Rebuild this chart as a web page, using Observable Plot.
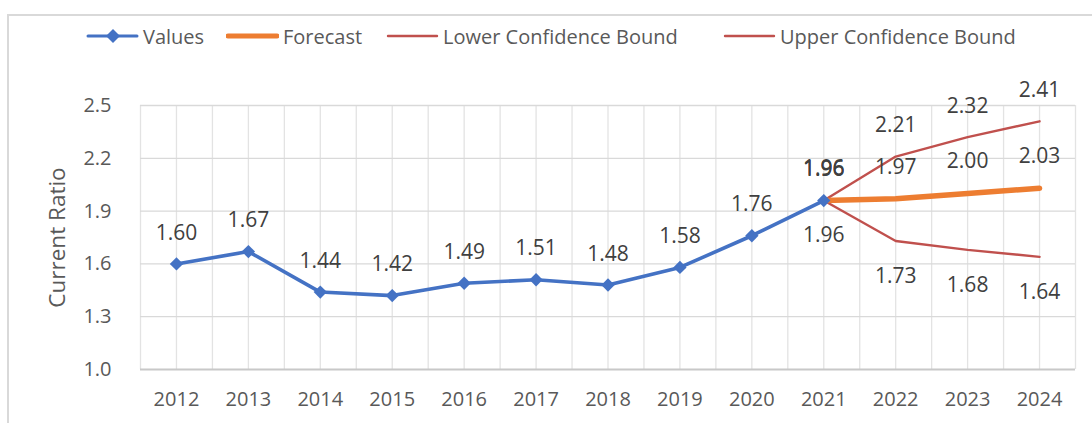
<!DOCTYPE html>
<html><head><meta charset="utf-8">
<script src="https://cdn.jsdelivr.net/npm/d3@7"></script>
<script src="https://cdn.jsdelivr.net/npm/@observablehq/plot@0.6"></script>
<style>
body{margin:0;background:#fff;font-family:"Open Sans",sans-serif;}
#wrap{position:relative;width:1092px;height:423px;overflow:hidden;background:#fff;}
#frame{position:absolute;left:7px;top:14px;width:1200px;height:500px;border-left:2px solid #d9d9d9;border-top:2px solid #d9d9d9;}
#legend{position:absolute;left:0;top:0;width:1092px;height:60px;}
.item{position:absolute;top:22px;height:28px;display:flex;align-items:center;font-size:20px;color:#595959;white-space:nowrap;}
.item svg{margin-right:4px;}
#chart{position:absolute;left:0;top:60px;}
</style></head>
<body><div id="wrap"><div id="frame"></div><div id="legend"></div><div id="chart"></div></div>
<script>
const years = [2012,2013,2014,2015,2016,2017,2018,2019,2020,2021,2022,2023,2024];
const valueYears = [2012,2013,2014,2015,2016,2017,2018,2019,2020,2021];
const values = [1.60,1.67,1.44,1.42,1.49,1.51,1.48,1.58,1.76,1.96];
const forecastYears = [2021,2022,2023,2024];
const forecast = [1.96,1.97,2.00,2.03];
const lowerBound = [1.96,1.73,1.68,1.64];
const upperBound = [1.96,2.21,2.32,2.41];
const yTicks = [1.0,1.3,1.6,1.9,2.2,2.5];
const seriesNames = ["Values","Forecast","Lower Confidence Bound","Upper Confidence Bound"];
const seriesColors = ["#4472C4","#ED7D31","#C0504D","#C0504D"];
const seriesWidths = [3.6,5.5,2.4,2.4];
const legendX = [86,226,386,723];

const valRows = valueYears.map((x,i)=>({x, y: values[i]}));
const fcRows = forecastYears.map((x,i)=>({x, y: forecast[i]}));
const loRows = forecastYears.map((x,i)=>({x, y: lowerBound[i]}));
const upRows = forecastYears.map((x,i)=>({x, y: upperBound[i]}));
const gridX = d3.range(years[0]-0.5, years[years.length-1]+1, 0.5);

// legend
const legend = document.getElementById("legend");
seriesNames.forEach((name,i)=>{
  const d = document.createElement("div");
  d.className = "item";
  d.style.left = legendX[i] + "px";
  const marker = i===0 ? `<path d="M27,7 L34,14 L27,21 L20,14 Z" fill="${seriesColors[i]}"/>` : "";
  const w = i===0 ? 3 : i===1 ? 5 : 2.4;
  d.innerHTML = `<svg width="53" height="28"><line x1="2" x2="51" y1="14" y2="14" stroke="${seriesColors[i]}" stroke-width="${w}" stroke-linecap="round"/>${marker}</svg><span>${name}</span>`;
  legend.appendChild(d);
});

const labelStyle = {fontSize: 21, fill: "#404040", fontFamily: "Open Sans"};
const chart = Plot.plot({
  width: 1092, height: 363,
  marginLeft: 140, marginRight: 17, marginTop: 45, marginBottom: 54,
  style: {fontFamily: "Open Sans", fontSize: "20px", color: "#595959", background: "transparent"},
  x: {domain: [years[0]-0.5, years[years.length-1]+0.5]},
  y: {domain: [1.0, 2.5]},
  marks: [
    Plot.ruleX(gridX, {stroke: "#e3e3e3", strokeWidth: 1.3}),
    Plot.ruleY(yTicks.slice(1), {stroke: "#d9d9d9", strokeWidth: 1.3}),
    Plot.ruleY([1.0], {stroke: "#c8c8c8", strokeWidth: 1.8}),
    Plot.axisX({ticks: years, tickFormat: d=>String(d), tickSize: 0, tickPadding: 22, label: null, fontSize: 20}),
    Plot.axisY({ticks: yTicks, tickFormat: d3.format(".1f"), tickSize: 0, tickPadding: 29, label: null, fontSize: 20}),
    Plot.text(["Current Ratio"], {frameAnchor: "left", textAnchor: "middle", dx: -83, rotate: -90, fontSize: 22.5, fill: "#595959", fontFamily: "Open Sans"}),
    Plot.line(loRows, {x: "x", y: "y", stroke: seriesColors[2], strokeWidth: seriesWidths[2]}),
    Plot.line(upRows, {x: "x", y: "y", stroke: seriesColors[3], strokeWidth: seriesWidths[3]}),
    Plot.line(fcRows, {x: "x", y: "y", stroke: seriesColors[1], strokeWidth: seriesWidths[1], strokeLinecap: "round"}),
    Plot.line(valRows, {x: "x", y: "y", stroke: seriesColors[0], strokeWidth: seriesWidths[0]}),
    Plot.dot(valRows, {x: "x", y: "y", symbol: "diamond2", r: 6, fill: seriesColors[0], stroke: "none"}),
    Plot.text(valRows, {x: "x", y: "y", text: d=>d.y.toFixed(2), dy: -31, ...labelStyle}),
    Plot.text(fcRows, {x: "x", y: "y", text: d=>d.y.toFixed(2), dy: -32, ...labelStyle}),
    Plot.text(upRows, {x: "x", y: "y", text: d=>d.y.toFixed(2), dy: -31, ...labelStyle}),
    Plot.text(loRows, {x: "x", y: "y", text: d=>d.y.toFixed(2), dy: 35, ...labelStyle})
  ]
});
document.getElementById("chart").appendChild(chart);
</script>
</body></html>
